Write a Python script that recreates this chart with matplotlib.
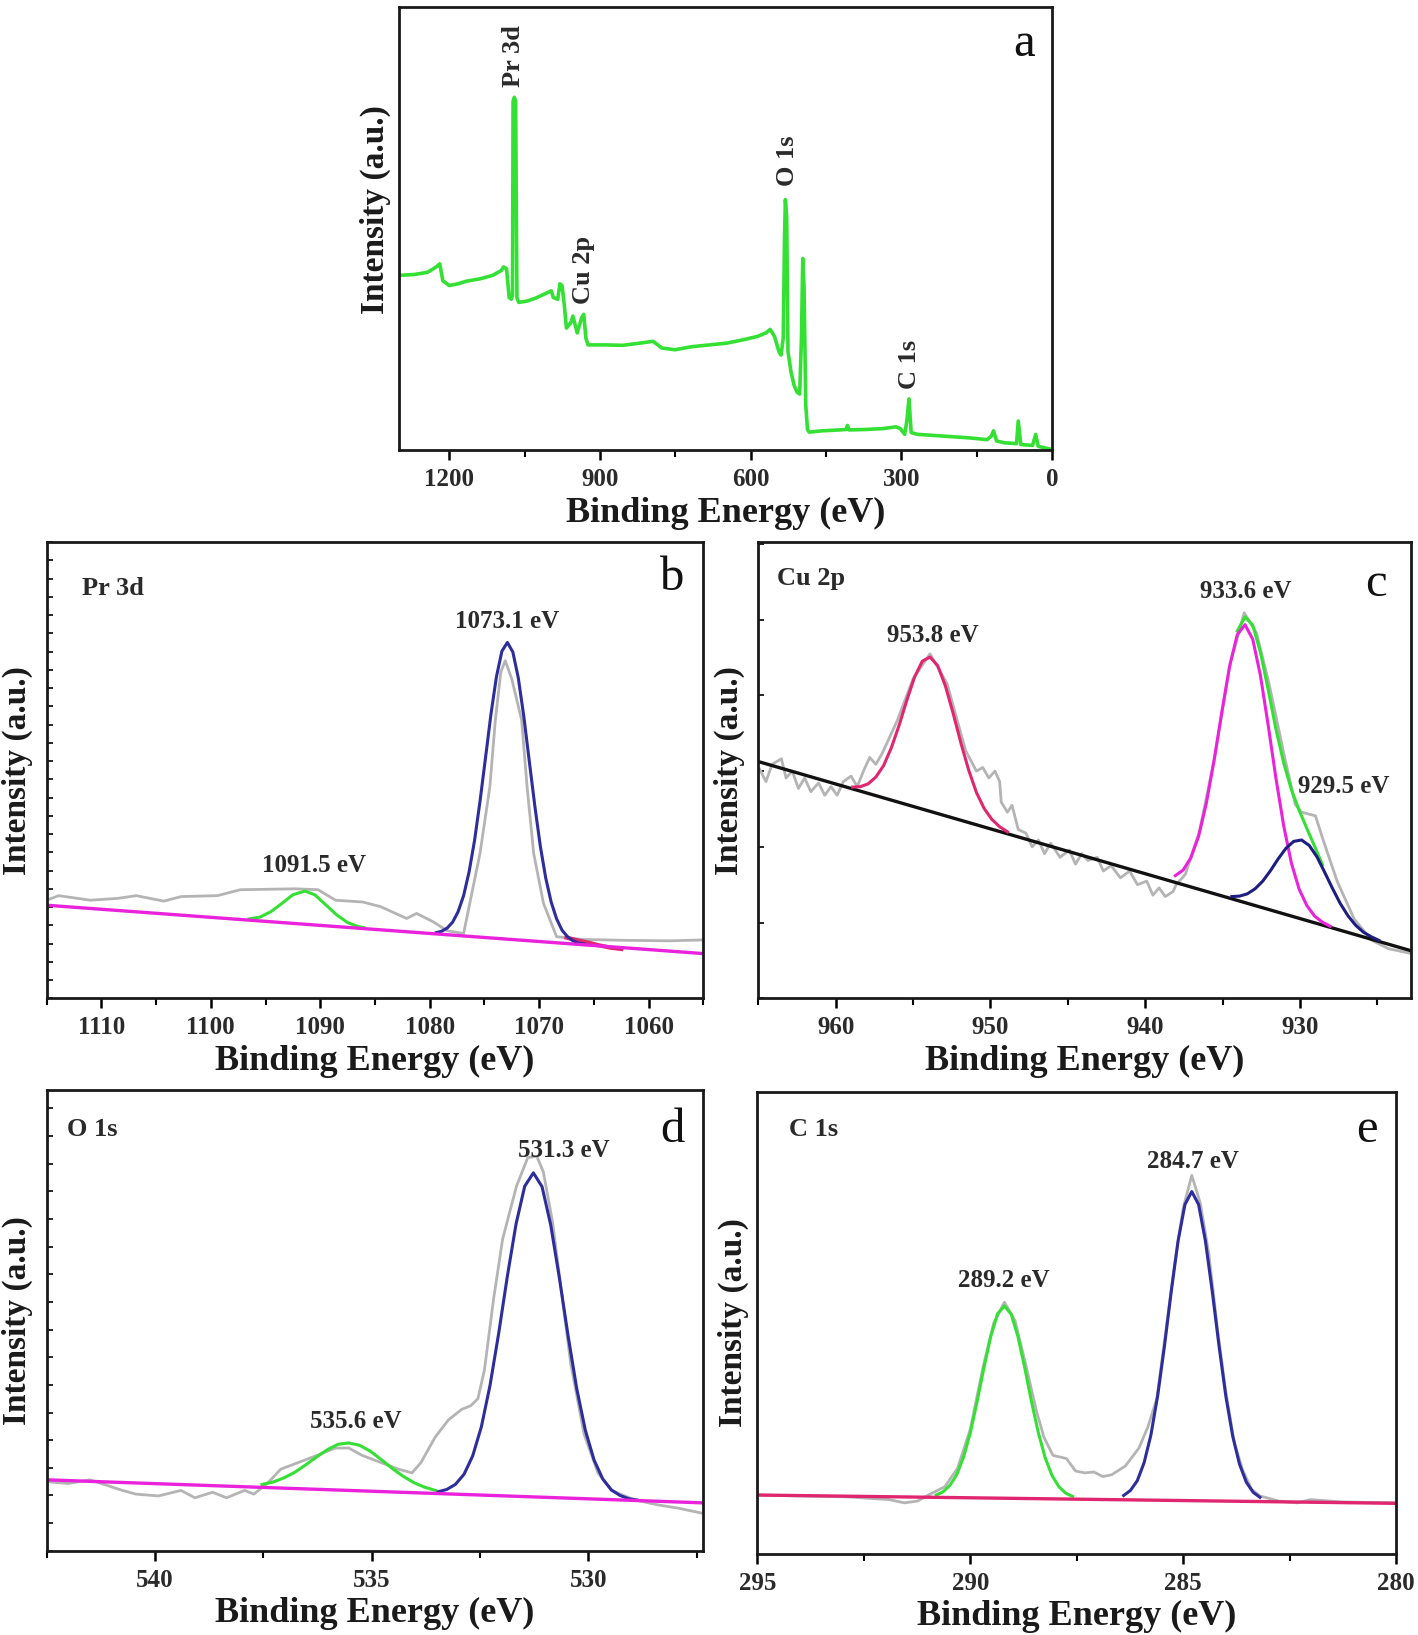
import matplotlib
matplotlib.use('Agg')
import matplotlib.pyplot as plt
from matplotlib.ticker import MultipleLocator, NullFormatter

plt.rcParams['font.family'] = ['Liberation Serif', 'DejaVu Serif']
plt.rcParams['font.weight'] = 'bold'
plt.rcParams['axes.labelweight'] = 'bold'

# ---------------- (a) survey ----------------
survey_ev = [1300.0, 1268.9, 1243.0, 1225.8, 1218.8, 1212.8, 1199.9, 1182.6, 1165.3, 1139.4,
             1113.5, 1096.3, 1091.9, 1085.9, 1080.7, 1076.5, 1074.0, 1072.9, 1070.4, 1067.8,
             1065.2, 1061.7, 1044.5, 1027.2, 1009.9, 997.0, 992.7, 984.0, 979.7, 975.4,
             971.1, 966.7, 958.1, 953.8, 949.5, 945.2, 936.5, 932.2, 927.9, 923.6,
             889.0, 854.5, 820.0, 794.1, 776.8, 750.9, 716.4, 681.8, 647.3, 612.8,
             586.9, 569.6, 561.0, 552.4, 543.7, 539.4, 535.1, 532.5, 530.8, 528.2,
             525.6, 519.6, 513.5, 507.5, 502.3, 498.8, 496.2, 493.6, 490.2, 486.7,
             483.3, 457.4, 422.8, 409.9, 407.3, 403.9, 371.0, 336.5, 310.6, 302.0,
             293.3, 289.0, 284.7, 280.4, 267.4, 215.6, 163.9, 129.3, 120.7, 116.4,
             110.3, 94.8, 70.6, 67.2, 62.0, 38.7, 32.6, 27.5, 12.8, 0.0]
survey_int = [39.5, 39.7, 40.2, 41.4, 42.1, 38.3, 37.2, 37.6, 38.2, 38.7,
              39.5, 40.6, 41.4, 41.0, 34.5, 34.1, 35.0, 78.8, 79.7, 78.8,
              34.5, 33.4, 33.7, 34.4, 35.3, 36.0, 34.5, 34.1, 37.6, 37.2,
              33.0, 27.6, 28.8, 30.3, 28.4, 26.5, 29.9, 30.7, 25.3, 23.8,
              23.8, 23.7, 24.2, 24.6, 23.1, 22.7, 23.4, 23.8, 24.2, 25.0,
              25.7, 26.5, 27.3, 25.7, 22.3, 21.5, 25.3, 48.2, 56.6, 52.7,
              22.3, 17.7, 14.7, 13.1, 12.7, 25.3, 43.3, 36.8, 10.1, 4.7,
              4.1, 4.4, 4.6, 4.7, 5.6, 4.6, 4.7, 4.9, 5.3, 4.9,
              3.6, 6.6, 11.6, 4.0, 3.6, 3.2, 2.8, 2.4, 3.2, 4.4,
              2.1, 1.7, 1.5, 6.6, 1.3, 1.1, 3.6, 0.9, 0.5, 0.2]
survey_labels = ['Pr 3d', 'Cu 2p', 'O 1s', 'C 1s']
survey_label_ev = [1072.0, 932.0, 526.5, 283.0]
survey_label_int = [82.0, 33.0, 59.7, 13.9]

# ---------------- (b) Pr 3d ----------------
pr_raw_ev = [1115.0, 1113.9, 1111.0, 1108.5, 1106.8, 1104.3, 1102.7, 1099.4, 1097.3, 1092.3,
             1090.2, 1088.6, 1086.1, 1084.5, 1082.1, 1081.2, 1079.7, 1078.4, 1076.9, 1075.4,
             1074.5, 1074.0, 1073.5, 1073.1, 1072.5, 1071.6, 1071.1, 1070.5, 1069.6, 1068.4,
             1066.0, 1062.0, 1058.0, 1055.0]
pr_raw_int = [21.5, 22.5, 21.5, 21.9, 22.5, 21.3, 22.3, 22.5, 23.8, 24.0,
              23.8, 21.5, 21.1, 20.1, 17.5, 18.6, 16.8, 14.8, 14.2, 31.8,
              46.4, 61.0, 71.5, 74.0, 70.0, 61.0, 46.4, 31.8, 20.8, 13.5,
              12.9, 12.7, 12.6, 12.8]
pr_base_ev = [1115.0, 1055.0]
pr_base_int = [20.4, 9.8]
pr_fit1_ev = [1096.5, 1095.5, 1094.5, 1093.5, 1092.5, 1091.4, 1090.5, 1089.5, 1088.5, 1087.5, 1086.5, 1086.0]
pr_fit1_int = [17.4, 17.8, 19.0, 20.8, 22.7, 23.5, 22.7, 20.5, 18.3, 16.6, 15.7, 15.5]
pr_fit2_ev = [1079.4, 1078.9, 1078.4, 1077.9, 1077.4, 1076.9, 1076.4, 1075.9, 1075.4, 1074.9,
              1074.4, 1073.9, 1073.4, 1072.9, 1072.4, 1071.9, 1071.4, 1070.9, 1070.4, 1069.9,
              1069.4, 1068.9, 1068.4, 1067.9, 1067.4, 1066.9, 1066.4, 1065.9]
pr_fit2_int = [14.4, 14.7, 15.4, 16.7, 19.0, 22.5, 27.7, 34.6, 43.2, 52.7,
               62.3, 70.5, 76.1, 78.0, 75.9, 70.2, 61.8, 52.0, 42.3, 33.5,
               26.4, 21.1, 17.4, 14.9, 13.5, 12.6, 12.1, 11.9]
pr_fit3_ev = [1067.5, 1066.5, 1065.5, 1064.5, 1063.5, 1062.5]
pr_fit3_int = [13.3, 12.7, 12.2, 11.6, 11.1, 10.8]
pr_peak_labels = ['1073.1 eV', '1091.5 eV']
pr_peak_ev = [1072.9, 1090.6]
pr_peak_int = [82.6, 29.1]

# ---------------- (c) Cu 2p ----------------
cu_raw_ev = [964.9, 964.5, 964.1, 963.5, 963.2, 962.8, 962.4, 962.0, 961.6, 961.1,
             960.7, 960.3, 959.9, 959.5, 959.0, 958.6, 958.2, 957.8, 957.4, 957.0,
             956.0, 955.0, 953.9, 952.8, 951.6, 950.9, 950.5, 950.1, 949.7, 949.4,
             949.3, 948.9, 948.6, 948.2, 947.7, 947.3, 946.9, 946.5, 946.1, 945.5,
             944.9, 944.5, 944.1, 943.7, 943.1, 942.7, 942.2, 941.6, 941.0, 940.5,
             939.9, 939.5, 939.1, 938.7, 938.2, 938.0, 937.4, 936.5, 935.5, 934.5,
             933.6, 932.8, 932.0, 931.0, 930.3, 929.9, 929.0, 928.5, 927.6, 926.5,
             925.4, 924.3, 922.8]
cu_raw_int = [50.2, 47.5, 51.3, 52.5, 48.3, 49.8, 46.0, 48.3, 45.3, 47.2,
              44.5, 46.4, 44.5, 47.5, 48.7, 46.4, 49.8, 52.8, 51.3, 53.6,
              61.0, 70.0, 75.5, 69.0, 54.3, 49.8, 50.6, 48.3, 49.8, 47.5,
              43.0, 40.8, 42.3, 37.0, 36.2, 33.2, 34.7, 31.7, 34.0, 30.9,
              32.5, 29.4, 31.7, 30.2, 30.9, 27.9, 29.1, 26.4, 27.9, 24.9,
              25.7, 22.6, 24.2, 22.3, 23.4, 24.9, 27.2, 36.5, 53.0, 73.5,
              84.5, 80.0, 69.0, 53.0, 42.5, 40.8, 40.0, 34.7, 25.7, 17.4,
              12.8, 10.9, 9.8]
cu_base_ev = [965.0, 922.8]
cu_base_int = [51.9, 10.4]
cu_fit1_ev = [958.9, 958.4, 957.9, 957.4, 956.9, 956.4, 955.9, 955.4, 954.9, 954.4, 953.9,
              953.4, 952.9, 952.4, 951.9, 951.4, 950.9, 950.4, 949.9, 949.4, 948.9]
cu_fit1_int = [46.3, 46.4, 47.0, 48.5, 51.0, 54.9, 59.8, 65.3, 70.4, 73.9, 74.8,
               72.9, 68.4, 62.4, 55.9, 50.0, 45.1, 41.6, 39.2, 37.6, 36.5]
cu_fit2_ev = [938.05, 937.55, 937.05, 936.55, 936.05, 935.55, 935.05, 934.55, 934.05, 933.55, 933.05,
              932.55, 932.05, 931.55, 931.05, 930.55, 930.05, 929.55, 929.05, 928.55, 928.05]
cu_fit2_int = [26.9, 28.1, 30.8, 35.5, 42.7, 52.1, 62.7, 72.7, 79.7, 81.9, 78.7,
               70.7, 59.8, 48.2, 37.8, 29.6, 23.9, 20.3, 18.0, 16.7, 15.8]
cu_fit3_ev = [934.4, 933.9, 933.4, 932.9, 932.4, 931.9, 931.4, 930.9, 930.4, 929.9,
              929.4, 928.9, 928.4, 927.9, 927.4, 926.9, 926.4, 925.9, 925.4, 924.9]
cu_fit3_int = [22.3, 22.4, 22.9, 24.0, 25.7, 28.0, 30.6, 32.9, 34.4, 34.7,
               33.5, 31.0, 27.6, 24.1, 20.8, 18.1, 16.0, 14.5, 13.5, 12.7]
cu_env_ev = [934.05, 933.55, 933.05, 932.55, 932.05, 931.55, 931.05, 930.55, 930.05, 929.55, 929.05, 928.55]
cu_env_int = [80.5, 83.6, 81.8, 75.8, 67.6, 59.0, 51.6, 45.7, 41.2, 37.2, 33.3, 29.3]
cu_peak_labels = ['953.8 eV', '933.6 eV', '929.5 eV']
cu_peak_ev = [953.74, 933.5, 927.2]
cu_peak_int = [79.6, 89.1, 46.4]

# ---------------- (d) O 1s ----------------
o_raw_ev = [542.5, 542.0, 541.5, 540.75, 540.44, 539.92, 539.4, 539.08, 538.67, 538.35,
            537.93, 537.72, 537.41, 537.1, 536.68, 536.26, 535.84, 535.53, 535.22, 534.8,
            534.38, 534.07, 533.86, 533.54, 533.23, 532.92, 532.71, 532.55, 532.4, 532.19,
            531.98, 531.66, 531.4, 531.19, 531.04, 530.83, 530.62, 530.41, 530.1, 529.78,
            529.47, 528.95, 528.42, 527.9, 527.35]
o_raw_int = [15.0, 14.6, 15.4, 13.1, 12.3, 11.9, 13.1, 11.5, 12.7, 11.5,
             13.1, 12.3, 14.6, 17.7, 19.2, 20.7, 22.3, 22.3, 20.7, 19.2,
             17.7, 16.9, 19.2, 24.6, 28.4, 30.7, 31.5, 33.0, 39.2, 54.5,
             67.6, 79.1, 85.3, 85.6, 82.2, 71.4, 56.1, 40.7, 25.3, 16.9,
             13.1, 11.1, 10.0, 9.2, 8.1]
o_base_ev = [542.5, 527.35]
o_base_int = [15.4, 10.4]
o_fit1_ev = [537.53, 537.28, 537.03, 536.78, 536.53, 536.28, 536.03, 535.78, 535.53,
             535.28, 535.03, 534.78, 534.53, 534.28, 534.03, 533.78, 533.53]
o_fit1_int = [14.4, 14.9, 15.8, 17.0, 18.6, 20.3, 21.9, 23.1, 23.4,
              22.9, 21.6, 19.8, 17.9, 16.2, 14.8, 13.8, 13.1]
o_fit2_ev = [533.47, 533.27, 533.07, 532.87, 532.67, 532.47, 532.27, 532.07, 531.87, 531.67,
             531.47, 531.27, 531.07, 530.87, 530.67, 530.47, 530.27, 530.07, 529.87, 529.67,
             529.47, 529.27, 529.07, 528.87]
o_fit2_int = [12.8, 13.3, 14.4, 16.6, 20.6, 26.9, 35.9, 47.2, 59.6, 70.9,
              79.1, 82.0, 79.0, 70.7, 59.2, 46.7, 35.2, 26.1, 19.7, 15.6,
              13.2, 12.0, 11.3, 11.0]
o_peak_labels = ['531.3 eV', '535.6 eV']
o_peak_ev = [530.57, 535.37]
o_peak_int = [86.8, 28.0]

# ---------------- (e) C 1s ----------------
c_raw_ev = [295.0, 294.0, 292.9, 291.9, 291.55, 291.24, 290.92, 290.6, 290.3, 290.0,
            289.7, 289.45, 289.2, 288.95, 288.7, 288.45, 288.27, 288.06, 287.74, 287.53,
            287.31, 287.1, 286.89, 286.68, 286.36, 286.04, 285.83, 285.62, 285.4, 285.2,
            285.0, 284.8, 284.6, 284.4, 284.2, 284.0, 283.8, 283.6, 283.4, 283.2,
            282.76, 282.33, 282.01, 281.27, 280.0]
c_raw_int = [12.7, 12.5, 12.3, 11.7, 11.0, 11.4, 13.0, 14.5, 18.5, 27.0,
             40.5, 50.0, 54.5, 50.5, 41.0, 31.0, 25.2, 21.3, 20.6, 17.9,
             17.5, 17.7, 16.7, 17.1, 19.0, 22.9, 27.5, 33.6, 49.0, 63.0,
             75.0, 82.0, 76.0, 65.0, 49.0, 35.0, 24.0, 18.0, 14.0, 12.5,
             11.4, 11.0, 11.7, 11.2, 11.0]
c_base_ev = [295.0, 280.0]
c_base_int = [12.7, 10.9]
c_fit1_ev = [290.8, 290.64, 290.48, 290.32, 290.16, 290.0, 289.84, 289.68, 289.52, 289.36, 289.2,
             289.04, 288.88, 288.72, 288.56, 288.4, 288.24, 288.08, 287.92, 287.76, 287.6]
c_fit1_int = [12.7, 13.4, 14.8, 17.1, 20.9, 26.2, 33.0, 40.3, 47.1, 52.0, 53.7,
              51.9, 47.0, 40.2, 32.8, 26.1, 20.7, 16.9, 14.5, 13.1, 12.4]
c_fit2_ev = [286.4, 286.24, 286.08, 285.92, 285.76, 285.6, 285.44, 285.28, 285.12, 284.96, 284.8,
             284.64, 284.48, 284.32, 284.16, 284.0, 283.84, 283.68, 283.52, 283.36, 283.2]
c_fit2_int = [12.6, 13.7, 15.8, 19.7, 25.7, 34.3, 45.1, 57.0, 67.9, 75.7, 78.5,
              75.7, 67.8, 56.9, 45.0, 34.1, 25.5, 19.4, 15.5, 13.3, 12.2]
c_peak_labels = ['284.7 eV', '289.2 eV']
c_peak_ev = [284.77, 289.22]
c_peak_int = [85.0, 59.3]

# ---------------- styling ----------------
GRAY = '#b4b4b4'
GREEN = '#35e035'
BLUE = '#2d2d9c'
MAGENTA = '#ea22dc'
RED = '#e0266e'
NAVY = '#1e1e82'
TXT = '#2a2a2a'

fig = plt.figure(figsize=(14.18, 16.35), dpi=100)
W, H = 1418.0, 1635.0


def make_ax(l, r, t, b):
    return fig.add_axes([l / W, 1 - b / H, (r - l) / W, (b - t) / H])


def style(ax, xlim, major, minor, ytick_step=None):
    ax.set_xlim(*xlim)
    ax.set_ylim(0, 100)
    ax.xaxis.set_major_locator(MultipleLocator(major))
    ax.xaxis.set_minor_locator(MultipleLocator(minor))
    ax.tick_params(axis='x', which='major', direction='out', length=7, width=1.8,
                   labelsize=18, pad=6, labelcolor=TXT)
    ax.tick_params(axis='x', which='minor', direction='out', length=5, width=1.5)
    if ytick_step:
        ax.yaxis.set_major_locator(MultipleLocator(ytick_step))
        ax.yaxis.set_major_formatter(NullFormatter())
        ax.tick_params(axis='y', which='major', direction='in', length=4, width=1.2)
    else:
        ax.set_yticks([])
    for s in ax.spines.values():
        s.set_linewidth(2.0)
        s.set_color('#1a1a1a')
    ax.set_xlabel('Binding Energy (eV)', fontsize=26, fontweight='bold', labelpad=4, color='#1a1a1a')
    ax.set_ylabel('Intensity (a.u.)', fontsize=24, fontweight='bold', labelpad=6, color='#1a1a1a')


def letter(ax, s, x, y):
    ax.text(x, y, s, transform=ax.transAxes, fontsize=35, fontweight='normal',
            ha='center', va='center', color='#111111')


def inner(ax, s, x, y):
    ax.text(x, y, s, transform=ax.transAxes, fontsize=19, fontweight='bold',
            ha='center', va='center', color=TXT)


def peak_labels(ax, labels, xs, ys):
    for s, x, y in zip(labels, xs, ys):
        ax.text(x, y, s, fontsize=18, fontweight='bold', ha='center', va='center', color=TXT)


# (a)
ax = make_ax(399, 1052, 7.4, 450.3)
ax.plot(survey_ev, survey_int, color=GREEN, lw=2.6)
style(ax, (1300, 0), 300, 150)
ax.yaxis.set_label_coords(-0.013, 0.543)
for s, x, y in zip(survey_labels, survey_label_ev, survey_label_int):
    ax.text(x, y, s, rotation=90, fontsize=19, fontweight='bold', ha='center', va='bottom', color=TXT)
letter(ax, 'a', 0.957, 0.918)

# (b)
ax = make_ax(46.6, 703.3, 542.1, 998.3)
ax.plot(pr_raw_ev, pr_raw_int, color=GRAY, lw=2.0)
ax.plot(pr_fit1_ev, pr_fit1_int, color=GREEN, lw=2.2)
ax.plot(pr_fit3_ev, pr_fit3_int, color=RED, lw=3.0)
ax.plot(pr_fit2_ev, pr_fit2_int, color=BLUE, lw=2.2)
ax.plot(pr_base_ev, pr_base_int, color=MAGENTA, lw=2.4)
style(ax, (1115, 1055), 10, 5, ytick_step=4)
inner(ax, 'Pr 3d', 0.101, 0.898)
letter(ax, 'b', 0.953, 0.921)
peak_labels(ax, pr_peak_labels, pr_peak_ev, pr_peak_int)

# (c)
ax = make_ax(758.2, 1411.4, 542.1, 998.3)
ax.plot(cu_raw_ev, cu_raw_int, color=GRAY, lw=2.0)
ax.plot(cu_base_ev, cu_base_int, color='#111111', lw=2.4)
ax.plot(cu_env_ev, cu_env_int, color=GREEN, lw=2.2)
ax.plot(cu_fit2_ev, cu_fit2_int, color=MAGENTA, lw=2.2)
ax.plot(cu_fit1_ev, cu_fit1_int, color=RED, lw=2.2)
ax.plot(cu_fit3_ev, cu_fit3_int, color=NAVY, lw=2.2)
style(ax, (965, 922.8), 10, 5, ytick_step=16.6)
inner(ax, 'Cu 2p', 0.081, 0.921)
letter(ax, 'c', 0.945, 0.909)
peak_labels(ax, cu_peak_labels, cu_peak_ev, cu_peak_int)

# (d)
ax = make_ax(46.6, 703.3, 1089.9, 1550.8)
ax.plot(o_raw_ev, o_raw_int, color=GRAY, lw=2.0)
ax.plot(o_fit1_ev, o_fit1_int, color=GREEN, lw=2.2)
ax.plot(o_fit2_ev, o_fit2_int, color=BLUE, lw=2.2)
ax.plot(o_base_ev, o_base_int, color=MAGENTA, lw=2.4)
style(ax, (542.5, 527.35), 5, 2.5, ytick_step=6)
inner(ax, 'O 1s', 0.070, 0.914)
letter(ax, 'd', 0.953, 0.914)
peak_labels(ax, o_peak_labels, o_peak_ev, o_peak_int)

# (e)
ax = make_ax(757.4, 1396.2, 1092.4, 1553.6)
ax.plot(c_raw_ev, c_raw_int, color=GRAY, lw=2.0)
ax.plot(c_fit1_ev, c_fit1_int, color=GREEN, lw=2.2)
ax.plot(c_fit2_ev, c_fit2_int, color=BLUE, lw=2.2)
ax.plot(c_base_ev, c_base_int, color=RED, lw=2.4)
style(ax, (295, 280), 5, 2.5)
inner(ax, 'C 1s', 0.088, 0.919)
letter(ax, 'e', 0.954, 0.919)
peak_labels(ax, c_peak_labels, c_peak_ev, c_peak_int)

fig.savefig('out.png', dpi=100)
